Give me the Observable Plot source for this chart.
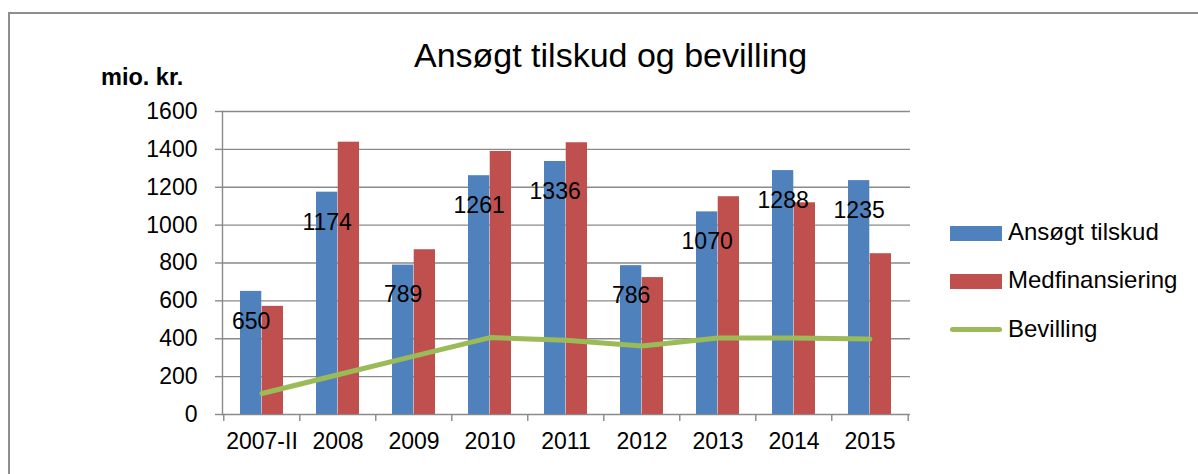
<!DOCTYPE html>
<html>
<head>
<meta charset="utf-8">
<script src="https://cdn.jsdelivr.net/npm/d3@7"></script>
<script src="https://cdn.jsdelivr.net/npm/@observablehq/plot@0.6"></script>
<style>
  html, body { margin: 0; padding: 0; background: #fff; }
  #wrap { position: relative; width: 1198px; height: 474px; overflow: hidden; font-family: "Liberation Sans", Arial, sans-serif; color: #000; }
  #frame { position: absolute; left: 8px; top: 12px; width: 1400px; height: 800px; border-left: 2px solid #8e8e8e; border-top: 2px solid #8e8e8e; }
  #chart { position: absolute; left: 0; top: 0; }
  .title { position: absolute; left: 0; width: 1221px; text-align: center; top: 38px; font-size: 34px; line-height: 34px; white-space: nowrap; }
  .unit { position: absolute; left: 101px; top: 66px; font-size: 23.5px; line-height: 23.5px; font-weight: bold; white-space: nowrap; }
  .leg { position: absolute; left: 950px; font-size: 24px; line-height: 24px; white-space: nowrap; }
  .leg .sw { position: absolute; left: 0; width: 52px; height: 15px; }
  .leg .ln { position: absolute; left: 0; width: 52px; height: 5px; border-radius: 3px; }
  .leg span.t { position: absolute; left: 58px; top: 0; }
</style>
</head>
<body>
<div id="wrap">
  <div id="frame"></div>
  <div id="chart"></div>
  <div class="title">Ansøgt tilskud og bevilling</div>
  <div class="unit">mio. kr.</div>
  <div id="legend"></div>
</div>
<script>
const categories = ["2007-II", "2008", "2009", "2010", "2011", "2012", "2013", "2014", "2015"];
const ansoegtTilskud = [650, 1174, 789, 1261, 1336, 786, 1070, 1288, 1235];
const medfinansiering = [571, 1438, 870, 1389, 1435, 723, 1150, 1118, 849];
const bevilling = [111, 210, 308, 406, 392, 362, 404, 404, 399];
const yTicks = [0, 200, 400, 600, 800, 1000, 1200, 1400, 1600];
const seriesNames = ["Ansøgt tilskud", "Medfinansiering", "Bevilling"];
const seriesColors = ["#4F81BD", "#C0504D", "#9BBB59"];

const data = categories.map((c, i) => ({
  cat: c, ans: ansoegtTilskud[i], med: medfinansiering[i], bev: bevilling[i]
}));

const W = 1198, H = 474;
const mL = 222, mR = 288, mT = 111, mB = 60;
const padIn = 0.432, padOut = 0.216;
const step = (W - mL - mR) / categories.length;
const bw = step * (1 - padIn);
const gray = "#8a8a8a";

const chart = Plot.plot({
  width: W,
  height: H,
  marginLeft: mL,
  marginRight: mR,
  marginTop: mT,
  marginBottom: mB,
  style: { fontFamily: "Liberation Sans, Arial, sans-serif", color: "#000", background: "transparent" },
  x: { type: "band", domain: categories, paddingInner: padIn, paddingOuter: padOut },
  y: { domain: [0, 1600] },
  marks: [
    Plot.gridY(yTicks, { stroke: gray, strokeOpacity: 1, strokeWidth: 1.4 }),
    Plot.frame({ anchor: "left", stroke: gray, strokeWidth: 1.4 }),
    Plot.axisY(yTicks, { tickSize: 7, tickPadding: 18, fontSize: 23, label: null, stroke: gray, strokeWidth: 1.4, tickFormat: d => String(d) }),
    Plot.ruleX(data, { x: "cat", dx: -step / 2, y1: 0, y2: -37, stroke: gray, strokeWidth: 1.4 }),
    Plot.ruleX(data.slice(-1), { x: "cat", dx: step / 2, y1: 0, y2: -37, stroke: gray, strokeWidth: 1.4 }),
    Plot.axisX({ tickSize: 0, tickPadding: 18, fontSize: 23, label: null }),
    Plot.barY(data, { x: "cat", y: "ans", fill: seriesColors[0], insetRight: bw / 2 }),
    Plot.barY(data, { x: "cat", y: "med", fill: seriesColors[1], insetLeft: bw / 2 }),
    Plot.lineY(data, { x: "cat", y: "bev", stroke: seriesColors[2], strokeWidth: 5, strokeLinecap: "round", strokeLinejoin: "round" }),
    Plot.text(data, { x: "cat", y: "ans", text: d => String(d.ans), dx: -bw / 4, dy: 30, fontSize: 23, fill: "#000" })
  ]
});
document.getElementById("chart").appendChild(chart);

// legend
const legend = document.getElementById("legend");
const legTops = [220, 268, 317];
seriesNames.forEach((name, i) => {
  const row = document.createElement("div");
  row.className = "leg";
  row.style.top = legTops[i] + "px";
  const mark = document.createElement("div");
  if (i < 2) {
    mark.className = "sw";
    mark.style.top = "6px";
  } else {
    mark.className = "ln";
    mark.style.top = "10px";
  }
  mark.style.background = seriesColors[i];
  const t = document.createElement("span");
  t.className = "t";
  t.textContent = name;
  row.appendChild(mark);
  row.appendChild(t);
  legend.appendChild(row);
});
</script>
</body>
</html>
